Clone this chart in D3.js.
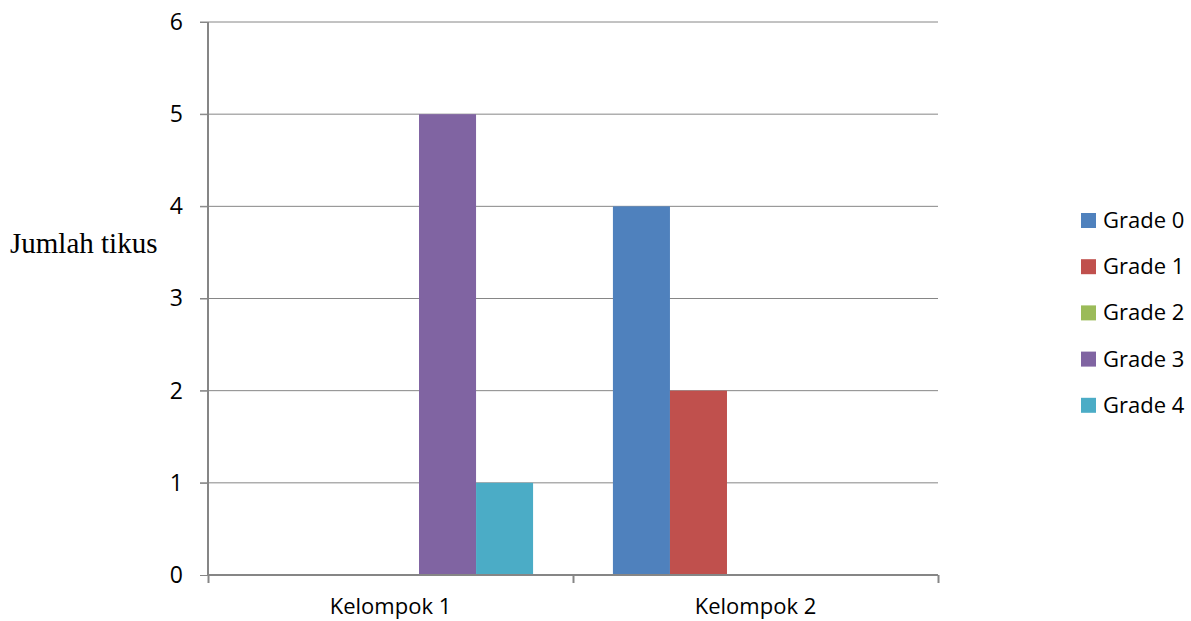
<!DOCTYPE html>
<html>
<head>
<meta charset="utf-8">
<script src="https://cdn.jsdelivr.net/npm/d3@7"></script>
<style>
  body { margin: 0; background: #fff; overflow: hidden; }
  svg { display: block; }
  text { font-family: "Open Sans", "Noto Sans", sans-serif; fill: #000; }
</style>
</head>
<body>
<script>
var categories = ["Kelompok 1", "Kelompok 2"];
var series = ["Grade 0", "Grade 1", "Grade 2", "Grade 3", "Grade 4"];
var colors = ["#4f81bd", "#c0504d", "#9bbb59", "#8064a2", "#4bacc6"];
// values[series][category]
var values = [
    [0, 4],
    [0, 2],
    [0, 0],
    [5, 0],
    [1, 0]
];
var yTicks = [0, 1, 2, 3, 4, 5, 6];

var width = 1191, height = 621;
var margin = {top: 22, right: 253, bottom: 46, left: 208};
var plotW = width - margin.left - margin.right,
    plotH = height - margin.top - margin.bottom;

var svg = d3.select("body").append("svg")
    .attr("width", width)
    .attr("height", height);

var g = svg.append("g")
    .attr("transform", "translate(" + margin.left + "," + margin.top + ")");

var yScale = d3.scaleLinear().domain([0, 6]).range([plotH, 0]);
var xScale = d3.scaleBand().domain(categories).range([0, plotW]).paddingInner(0).paddingOuter(0);
var xInner = d3.scaleBand().domain(series)
    .range([0, xScale.bandwidth()])
    .paddingOuter(0.7).paddingInner(0);

// gridlines
g.selectAll(".grid")
    .data(yTicks.filter(function(d){ return d > 0; }))
    .enter().append("line")
    .attr("x1", -8).attr("x2", plotW)
    .attr("y1", function(d){ return yScale(d); })
    .attr("y2", function(d){ return yScale(d); })
    .attr("stroke", "#868686").attr("stroke-width", 1);

// bars
var data = [];
series.forEach(function(s, i){
    categories.forEach(function(c, j){
        data.push({s: s, c: c, v: values[i][j], color: colors[i]});
    });
});
g.selectAll("rect.bar")
    .data(data)
    .enter().append("rect")
    .attr("class", "bar")
    .attr("x", function(d){ return xScale(d.c) + xInner(d.s); })
    .attr("y", function(d){ return yScale(d.v); })
    .attr("width", xInner.bandwidth())
    .attr("height", function(d){ return plotH - yScale(d.v); })
    .attr("fill", function(d){ return d.color; });

// y axis
var yAxis = d3.axisLeft(yScale).tickValues(yTicks).tickSize(8).tickPadding(17).tickFormat(d3.format("d"));
var ya = g.append("g").call(yAxis);
ya.select(".domain").attr("stroke", "#868686").attr("stroke-width", 2).attr("d", "M0," + plotH + "V0");
ya.selectAll(".tick line").attr("stroke", "#868686");
ya.selectAll("text").attr("font-family", null).style("font-size", "23px");

// x axis
var xAxis = d3.axisBottom(d3.scaleLinear().domain([0, 2]).range([0, plotW]))
    .tickValues([0, 1, 2]).tickSize(8).tickFormat("");
var xa = g.append("g").attr("transform", "translate(0," + plotH + ")").call(xAxis);
xa.select(".domain").attr("stroke", "#868686").attr("stroke-width", 2).attr("d", "M0,0H" + plotW);
xa.selectAll(".tick line").attr("stroke", "#868686").attr("stroke-width", 2);

g.selectAll(".catlabel")
    .data(categories)
    .enter().append("text")
    .attr("x", function(d){ return xScale(d) + xScale.bandwidth() / 2; })
    .attr("y", plotH + 39)
    .attr("text-anchor", "middle")
    .style("font-size", "22px")
    .text(function(d){ return d; });

// y label
svg.append("text")
    .attr("x", 10).attr("y", 253)
    .style("font-family", "'Liberation Serif', 'Times New Roman', serif")
    .style("font-size", "29px")
    .text("Jumlah tikus");

// legend
var legend = svg.append("g").attr("transform", "translate(1081,213)");
var lg = legend.selectAll("g")
    .data(series)
    .enter().append("g")
    .attr("transform", function(d, i){ return "translate(0," + (i * 46.2) + ")"; });
lg.append("rect")
    .attr("width", 15).attr("height", 15)
    .attr("fill", function(d, i){ return colors[i]; });
lg.append("text")
    .attr("x", 22).attr("y", 15)
    .style("font-size", "22px")
    .text(function(d){ return d; });
</script>
</body>
</html>
